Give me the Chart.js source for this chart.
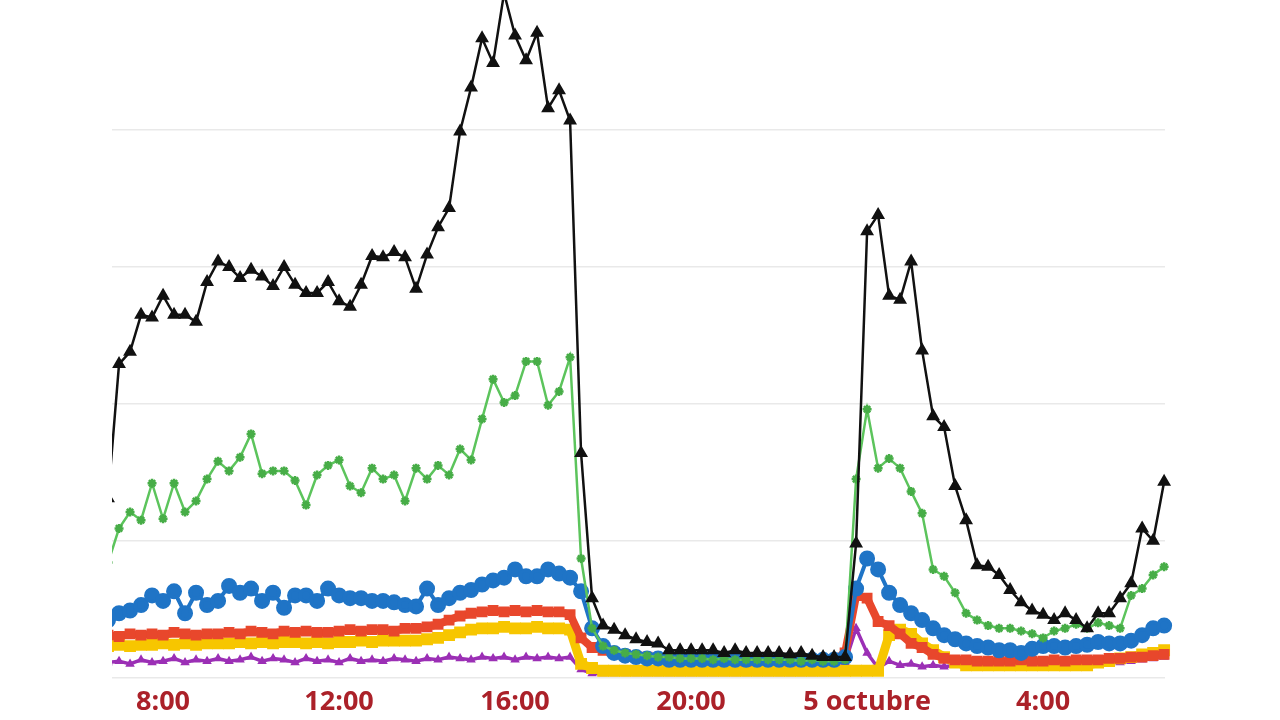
<!DOCTYPE html>
<html>
<head>
<meta charset="utf-8">
<script src="https://cdn.jsdelivr.net/npm/chart.js@4/dist/chart.umd.min.js"></script>
<style>
  html, body { margin: 0; padding: 0; background: #fff; }
  canvas { display: block; }
</style>
</head>
<body>
<canvas id="chart" width="1280" height="720"></canvas>
<script>
// 15-minute readings, 6:45 on day 4 -> 6:45 on day 5
const times = [
  '6:45','7:00','7:15','7:30','7:45','8:00','8:15','8:30','8:45','9:00',
  '9:15','9:30','9:45','10:00','10:15','10:30','10:45','11:00','11:15','11:30',
  '11:45','12:00','12:15','12:30','12:45','13:00','13:15','13:30','13:45','14:00',
  '14:15','14:30','14:45','15:00','15:15','15:30','15:45','16:00','16:15','16:30',
  '16:45','17:00','17:15','17:30','17:45','18:00','18:15','18:30','18:45','19:00',
  '19:15','19:30','19:45','20:00','20:15','20:30','20:45','21:00','21:15','21:30',
  '21:45','22:00','22:15','22:30','22:45','23:00','23:15','23:30','23:45','0:00',
  '0:15','0:30','0:45','1:00','1:15','1:30','1:45','2:00','2:15','2:30',
  '2:45','3:00','3:15','3:30','3:45','4:00','4:15','4:30','4:45','5:00',
  '5:15','5:30','5:45','6:00','6:15','6:30','6:45'
];

const tickHours = [8, 12, 16, 20, 24, 28];
const tickLabels = ['8:00', '12:00', '16:00', '20:00', '5 octubre', '4:00'];
const gridValues = [0, 100, 200, 300, 400];

const black = [
  131,229,238,265,263,279,265,265,260,289,
  304,300,292,298,293,286,300,287,281,281,
  289,275,271,287,308,307,311,307,284,309,
  329,343,399,431,467,449,500,469,451,471,
  416,429,407,164,58,38,35,31,28,26,
  25,20,20,20,20,20,18,20,18,18,
  18,18,17,18,16,15,15,15,98,326,
  338,279,276,304,239,191,183,140,115,82,
  81,75,64,55,49,46,42,47,42,36,
  47,47,58,69,109,100,143
];
const green = [
  84,109,121,115,142,116,142,121,129,145,
  158,151,161,178,149,151,151,144,126,148,
  155,159,140,135,153,145,148,129,153,145,
  155,148,167,159,189,218,201,206,231,231,
  199,209,234,87,36,23,20,18,17,16,
  15,15,14,14,14,13,14,13,13,13,
  13,13,13,12,13,12,12,13,145,196,
  153,160,153,136,120,79,74,62,47,42,
  38,36,36,34,32,29,34,36,39,36,
  40,38,36,60,65,75,81
];
const blue = [
  42,47,49,53,60,56,63,47,62,53,
  56,67,62,65,56,62,51,60,60,56,
  65,60,58,58,56,56,55,53,52,65,
  53,58,62,64,68,71,73,79,74,74,
  79,76,73,63,36,23,18,16,15,14,
  14,13,13,13,13,13,13,13,13,13,
  13,13,13,13,13,13,13,15,65,87,
  79,62,53,47,42,36,31,28,25,23,
  22,20,20,18,21,23,23,22,23,24,
  26,25,25,27,31,36,38
];
const red = [
  31,30,32,31,32,31,33,32,31,32,
  32,33,32,34,33,32,34,33,34,33,
  33,34,35,34,35,35,34,36,36,37,
  39,42,45,47,48,49,48,49,48,49,
  48,48,46,29,22,20,18,17,15,15,
  14,14,13,13,13,13,13,13,12,13,
  13,13,12,13,13,13,13,18,60,58,
  41,38,32,25,22,17,14,13,13,12,
  12,12,12,13,12,12,13,12,13,13,
  13,14,14,15,15,16,17
];
const yellow = [
  23,24,23,24,24,25,24,25,24,25,
  25,25,26,25,26,25,26,26,25,26,
  25,26,26,27,26,27,27,27,27,28,
  29,31,33,35,36,36,37,36,36,37,
  36,36,35,10,7,5,5,5,5,5,
  5,5,5,5,5,5,5,5,5,5,
  5,5,5,5,5,5,5,5,5,5,
  5,31,35,32,25,20,15,11,9,9,
  9,9,9,9,9,9,9,9,9,9,
  11,12,14,15,17,18,20
];
const purple = [
  11,12,10,13,11,12,14,11,13,12,
  14,12,13,15,12,14,13,11,14,12,
  13,11,14,12,13,12,14,13,12,14,
  13,15,14,13,15,14,15,13,15,14,
  15,14,15,6,3,3,3,3,3,3,
  3,3,3,3,3,3,3,3,3,3,
  3,3,3,3,3,3,3,11,36,18,
  7,12,9,10,8,9,8,9,8,9,
  8,9,8,9,8,9,9,10,9,10,
  10,11,11,12,13,14,15
];

// time strings -> continuous hours (past midnight adds 24)
function toHours(list) {
  let dayOffset = 0, prev = -1;
  return list.map(t => {
    const [h, m] = t.split(':').map(Number);
    let v = h + m / 60;
    if (v + dayOffset < prev) dayOffset += 24;
    v += dayOffset;
    prev = v;
    return v;
  });
}
const hours = toHours(times);

function pts(values) {
  return values.map((v, i) => ({ x: hours[i], y: v }));
}

function series(label, values, color, opts) {
  return Object.assign({
    label: label,
    data: pts(values),
    borderColor: color,
    backgroundColor: color,
    pointBackgroundColor: color,
    pointBorderColor: color,
    tension: 0,
    clip: { left: 0, top: 0, right: 10, bottom: 10 }
  }, opts);
}

const datasets = [
  series('black', black, '#111111', { borderWidth: 2.5, pointStyle: 'triangle', pointRadius: 5.5 }),
  series('green', green, '#5cc45c', { borderWidth: 2.5, pointStyle: 'star', pointRadius: 4.5, pointBorderWidth: 2.5, pointBorderColor: '#47ad47' }),
  series('blue', blue, '#1f74c6', { borderWidth: 4, pointStyle: 'circle', pointRadius: 6 }),
  series('red', red, '#e8472c', { borderWidth: 8, pointRadius: 2, pointStyle: 'rect' }),
  series('yellow', yellow, '#f7c600', { borderWidth: 9, pointRadius: 2, pointStyle: 'rect' }),
  series('purple', purple, '#9b2fb5', { borderWidth: 3.5, pointRadius: 2, pointStyle: 'triangle' })
];

new Chart(document.getElementById('chart'), {
  type: 'line',
  data: { datasets: datasets },
  options: {
    responsive: false,
    animation: false,
    layout: { autoPadding: false, padding: { left: 112, right: 115, top: 0, bottom: -8 } },
    plugins: { legend: { display: false }, tooltip: { enabled: false } },
    scales: {
      x: {
        type: 'linear',
        min: 6.84,
        max: 30.77,
        grid: { display: false, drawTicks: false },
        border: { display: false },
        afterBuildTicks: axis => { axis.ticks = tickHours.map(v => ({ value: v })); },
        ticks: {
          padding: 9,
          color: '#ab2129',
          font: { family: 'Open Sans', weight: 'bold', size: 27 },
          maxRotation: 0,
          callback: v => tickLabels[tickHours.indexOf(v)]
        }
      },
      y: {
        min: 0,
        max: 495,
        afterBuildTicks: axis => { axis.ticks = gridValues.map(v => ({ value: v })); },
        grid: { color: '#e9e9e9', lineWidth: 1.5, drawTicks: false },
        border: { display: false },
        ticks: { display: false }
      }
    }
  }
});
</script>
</body>
</html>
